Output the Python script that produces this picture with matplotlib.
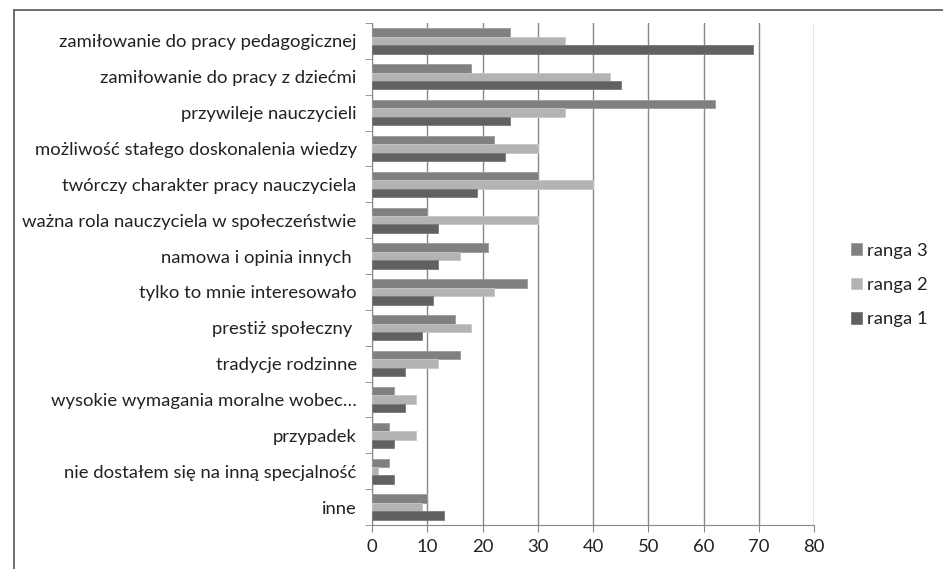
import matplotlib.pyplot as plt
import numpy as np
from matplotlib.patches import Rectangle

plt.rcParams['font.family'] = ['Lato', 'DejaVu Sans']

kategorie = [
    "zamiłowanie do pracy pedagogicznej",
    "zamiłowanie do pracy z dziećmi",
    "przywileje nauczycieli",
    "możliwość stałego doskonalenia wiedzy",
    "twórczy charakter pracy nauczyciela",
    "ważna rola nauczyciela w społeczeństwie",
    "namowa i opinia innych ",
    "tylko to mnie interesowało",
    "prestiż społeczny ",
    "tradycje rodzinne",
    "wysokie wymagania moralne wobec…",
    "przypadek",
    "nie dostałem się na inną specjalność",
    "inne",
]
ranga3 = [25, 18, 62, 22, 30, 10, 21, 28, 15, 16, 4, 3, 3, 10]
ranga2 = [35, 43, 35, 30, 40, 30, 16, 22, 18, 12, 8, 8, 1, 9]
ranga1 = [69, 45, 25, 24, 19, 12, 12, 11, 9, 6, 6, 4, 4, 13]

kolory = {"ranga 3": "#808080", "ranga 2": "#b3b3b3", "ranga 1": "#616161"}

fig = plt.figure(figsize=(9.43, 5.69), dpi=100)
ax = fig.add_axes([372 / 943, 1 - 525 / 569, (814 - 372) / 943, (525 - 23) / 569])

y = np.arange(len(kategorie))
h = 0.235
ax.barh(y - h, ranga3, height=h, color=kolory["ranga 3"], edgecolor="#9a9a9a", linewidth=0.6, label="ranga 3", zorder=3)
ax.barh(y, ranga2, height=h, color=kolory["ranga 2"], edgecolor="#c8c8c8", linewidth=0.6, label="ranga 2", zorder=3)
ax.barh(y + h, ranga1, height=h, color=kolory["ranga 1"], edgecolor="#7a7a7a", linewidth=0.6, label="ranga 1", zorder=3)

ax.set_xlim(0, 80)
ax.set_ylim(len(kategorie) - 0.5, -0.5)
ax.set_xticks(range(0, 81, 10))
ax.set_yticks(y)
ax.set_yticklabels(kategorie)
ax.set_yticks(np.arange(-0.5, len(kategorie), 1), minor=True)
ax.tick_params(axis="y", which="major", length=0, pad=11, labelsize=13.3, colors="#222222")
ax.tick_params(axis="y", which="minor", length=5, color="#888888")
ax.tick_params(axis="x", length=5, color="#888888", labelsize=13.3, labelcolor="#222222", pad=5)
ax.grid(axis="x", color="#888888", linewidth=1, zorder=0)
for s in ["top", "right"]:
    ax.spines[s].set_visible(False)
for s in ["left", "bottom"]:
    ax.spines[s].set_color("#888888")

leg = fig.legend(loc="center left", bbox_to_anchor=(834 / 943, 1 - 285 / 569), frameon=False,
                 fontsize=13.3, handlelength=0.6, handleheight=0.6, handletextpad=0.3, labelspacing=1.0)
for t in leg.get_texts():
    t.set_color("#222222")

fig.patches.append(Rectangle((14 / 943, -0.01), 1.0, 1 - 10 / 569 + 0.01, transform=fig.transFigure,
                             fill=False, edgecolor="#555555", linewidth=1.2))

fig.savefig("out.png", dpi=100)
